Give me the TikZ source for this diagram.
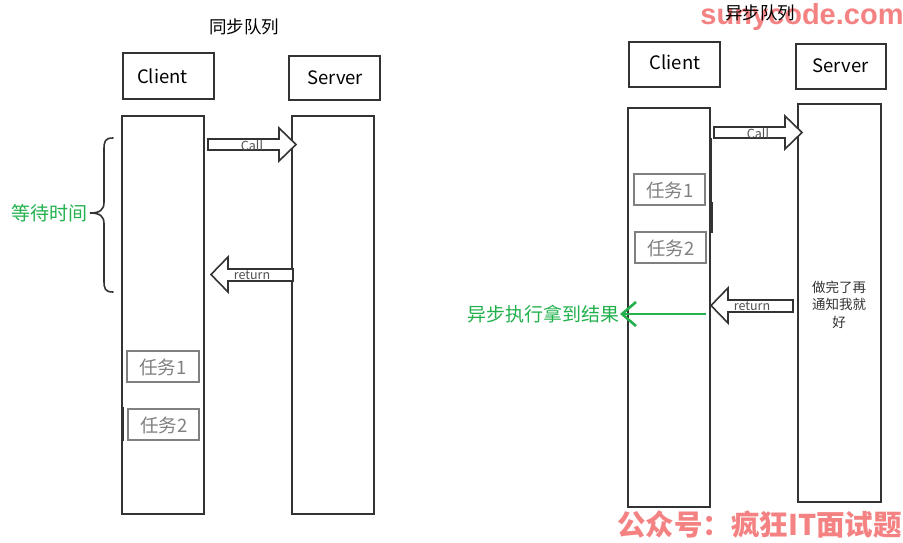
\documentclass[tikz,border=0pt]{standalone}
\usepackage{fontspec}
\setmainfont{Noto Sans CJK SC}
\newfontfamily\wmfont{Liberation Sans}
\usetikzlibrary{arrows.meta,fit}
\definecolor{ln}{HTML}{333333}
\definecolor{taskgray}{HTML}{808080}
\definecolor{lblgray}{HTML}{505050}
\definecolor{grn}{RGB}{34,177,76}
\definecolor{wmred}{HTML}{F47C7C}
\begin{document}
\begin{tikzpicture}[x=1pt,y=-1pt,
  frame/.style={draw=ln, line width=1.6pt, inner sep=0pt, fill=white},
  headtext/.style={font=\fontsize{18.5}{22}\selectfont, text=black, inner sep=0pt},
  titletext/.style={font=\fontsize{17.5}{21}\selectfont, text=black, inner sep=0pt},
  taskbox/.style={draw=taskgray, line width=2.6pt, inner sep=0pt},
  tasktext/.style={font=\fontsize{18.5}{22}\selectfont, text=taskgray, inner sep=0pt},
  blockarrow/.style={draw=ln, line width=1.6pt, fill=white, line join=miter},
  arrowlbl/.style={font=\fontsize{12.5}{15}\selectfont, text=lblgray, inner sep=0pt},
  greentext/.style={font=\fontsize{19}{22}\selectfont, text=grn, inner sep=0pt},
  wmark/.style={text=wmred, inner sep=0pt, opacity=0.95}]
\useasboundingbox (0,0) rectangle (903,543);
\fill[white] (0,0) rectangle (903,543);

% ---------- left: synchronous ----------
\node[titletext] (t1) at (244,27) {同步队列};
\node[frame, fit={(123,53)(214,99)}] (c1box) {};
\node[headtext] (c1txt) at (162.5,76) {Client};
\node[frame, fit={(289,56)(380,100)}] (s1box) {};
\node[headtext] (s1txt) at (335,77.5) {Server};
\node[frame, fit={(122,116)(204,514)}] (c1life) {};
\node[frame, fit={(292,116)(374,514)}] (s1life) {};

\draw[blockarrow] (208,139) -- (279,139) -- (279,128) -- (296,144.5) -- (279,161) -- (279,150) -- (208,150) -- cycle;
\node[arrowlbl] (call1) at (252,145.5) {Call};
\draw[blockarrow] (293,269) -- (228,269) -- (228,257) -- (211,274.5) -- (228,292) -- (228,281) -- (293,281) -- cycle;
\node[arrowlbl] (ret1) at (252,275.5) {return};

\draw[ln, line width=1.6pt, line cap=round]
  (113,138) .. controls (105,138) and (104,141) .. (104,150) -- (104,202)
  .. controls (104,210) and (100,213) .. (90,213)
  .. controls (100,213) and (104,216) .. (104,224) -- (104,280)
  .. controls (104,289) and (105,292) .. (113,292);
\node[greentext, anchor=east] (wait) at (87.5,213) {等待时间};

\node[taskbox, fit={(127,351)(199,382)}] (task1a) {};
\node[tasktext] (task1atxt) at (163,367) {任务1};
\node[taskbox, fit={(128,409)(199,440)}] (task2a) {};
\node[tasktext] (task2atxt) at (164,425) {任务2};
\draw[ln, line width=2.6pt] (123,407) -- (123,441);

% ---------- right: asynchronous ----------
\node[wmark, font=\wmfont\bfseries\fontsize{29}{32}\selectfont] (wm1) at (802,17) {sunycode.com};
\node[titletext] (t2) at (760,13) {异步队列};
\node[frame, fit={(629,42)(720,87)}] (c2box) {};
\node[headtext] (c2txt) at (675,62.5) {Client};
\node[frame, fit={(796,44)(886,89)}] (s2box) {};
\node[headtext] (s2txt) at (840.5,66) {Server};
\node[frame, fit={(628,108)(710,507)}] (c2life) {};
\node[frame, fit={(798,104)(881,502)}] (s2life) {};
\draw[ln, line width=2pt] (711,138) -- (711,202);
\draw[ln, line width=2pt] (711.5,202) -- (711.5,233);

\draw[blockarrow] (714,127) -- (785,127) -- (785,116) -- (802,132.5) -- (785,149) -- (785,138) -- (714,138) -- cycle;
\node[arrowlbl] (call2) at (758,133.5) {Call};
\draw[blockarrow] (793,300) -- (728,300) -- (728,288) -- (711,305.5) -- (728,323) -- (728,312) -- (793,312) -- cycle;
\node[arrowlbl] (ret2) at (752,306.5) {return};

\node[taskbox, fit={(634,174)(705,205)}] (task1b) {};
\node[tasktext] (task1btxt) at (670,190) {任务1};
\node[taskbox, fit={(635,232)(706,263)}] (task2b) {};
\node[tasktext] (task2btxt) at (671,248) {任务2};

\node[font=\fontsize{13.5}{17.5}\selectfont, text=ln, align=center, inner sep=0pt] (done) at (839,304.5) {做完了再\\通知我就\\好};

\node[greentext, anchor=east] (asyncres) at (620,314) {异步执行拿到结果};
\coordinate (gstart) at (706,314);
\draw[grn, line width=2.6pt, -{Straight Barb[length=14pt,width=24pt,line width=2.6pt]}] (gstart) -- (asyncres.east);

\node[wmark, font=\bfseries\fontsize{28.5}{32}\selectfont, anchor=east] (wm2) at (902,525) {公众号：疯狂IT面试题};
\end{tikzpicture}
\end{document}
